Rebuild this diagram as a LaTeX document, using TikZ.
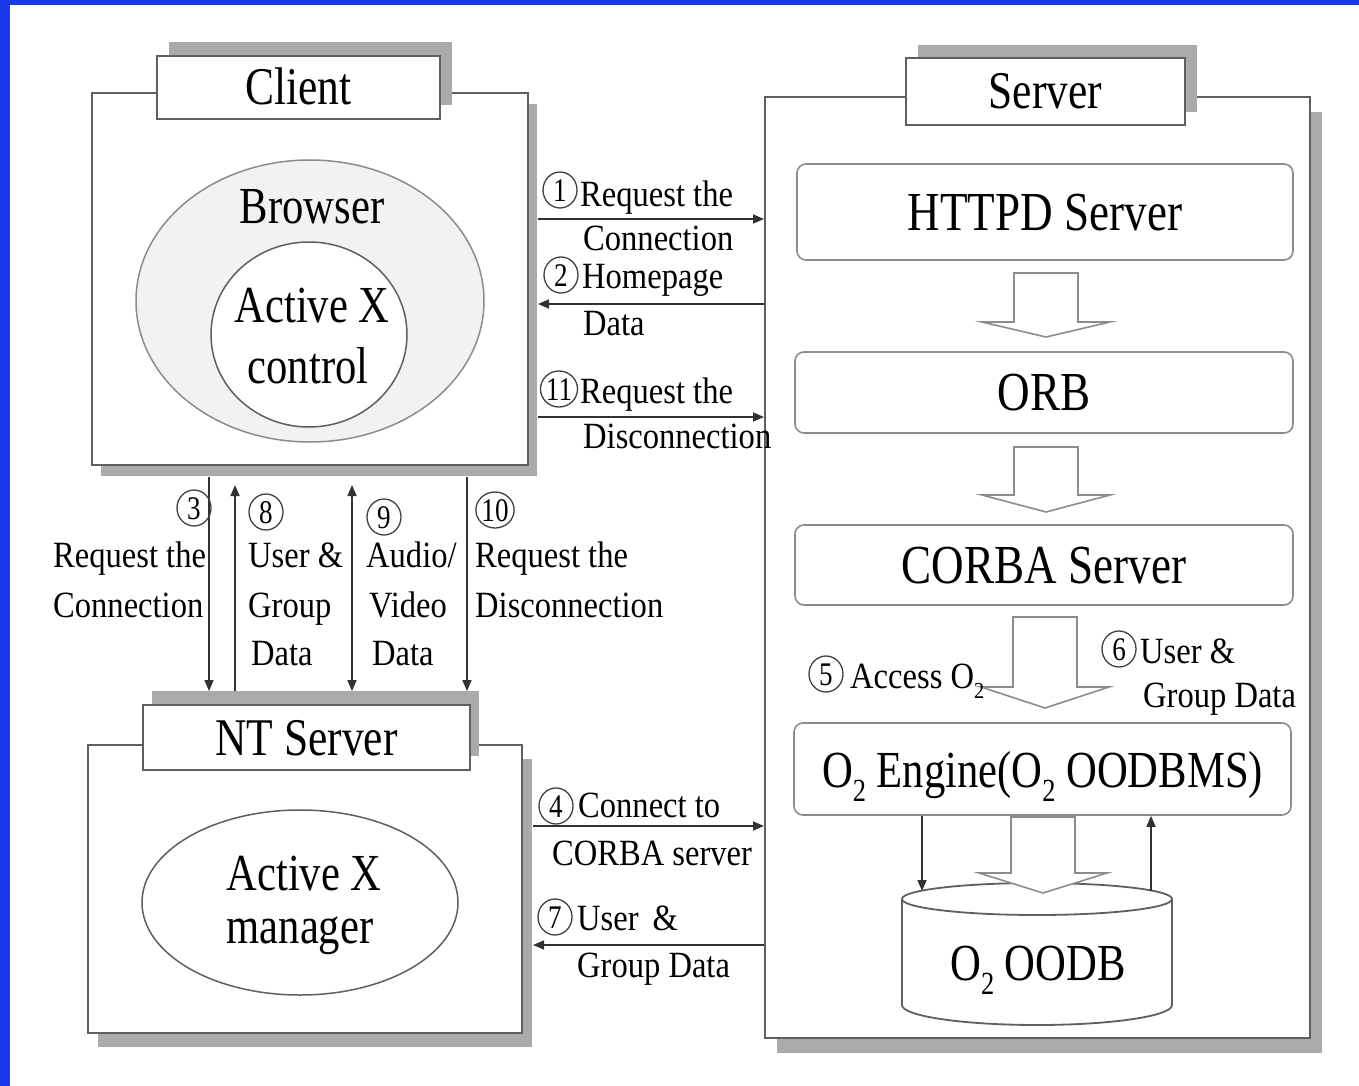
\documentclass[tikz,border=0pt]{standalone}
\usepackage{fontspec}
\newfontfamily\lfam{Liberation Serif}[FakeStretch=0.88]
\newfontfamily\bfam{Liberation Serif}[FakeStretch=0.82]
\usetikzlibrary{shapes.geometric,shadows,arrows.meta,calc}
\definecolor{bordblue}{RGB}{24,56,238}
\definecolor{shgray}{RGB}{170,170,170}
\definecolor{boxline}{RGB}{95,95,95}
\definecolor{rline}{RGB}{140,140,140}
\definecolor{conncol}{RGB}{50,50,50}
\definecolor{browserfill}{RGB}{242,242,242}
\newcommand\subtwo{\raisebox{-0.28em}{\scalebox{0.62}{2}}}
\newcommand\blockarr[4]{%
  \draw[barrow] (#1-32,#2) -- (#1+32,#2) -- (#1+32,#3) -- (#1+64,#3) -- (#1,#4) -- (#1-64,#3) -- (#1-32,#3) -- cycle;}
\begin{document}
\begin{tikzpicture}[x=1pt,y=-1pt,
  >={Triangle[length=11pt,width=9pt]},
  outerbox/.style={draw=boxline, line width=2pt, fill=white, rectangle, inner sep=0},
  titlebox/.style={draw=boxline, line width=1.8pt, fill=white, rectangle, inner sep=0,
     font=\bfam\fontsize{53}{56}\selectfont, text height=35pt, text depth=0pt},
  procbox/.style={draw=rline, line width=1.6pt, fill=white, rectangle, rounded corners=9pt, inner sep=0,
     font=\bfam\fontsize{55}{58}\selectfont, text height=36pt, text depth=0pt},
  bigtext/.style={inner sep=0, anchor=base, font=\bfam\fontsize{52}{56}\selectfont},
  lab/.style={inner sep=0, anchor=base west, font=\lfam\fontsize{37}{40}\selectfont},
  cnum/.style={ellipse, draw=black!75, line width=1.3pt, inner sep=0, minimum width=34, minimum height=36,
     font=\bfam\fontsize{33}{34}\selectfont, text height=22pt, text depth=0pt},
  conn/.style={draw=conncol, line width=1.6pt},
  barrow/.style={draw=rline, line width=1.6pt, fill=white, line join=miter},
  dbline/.style={draw=boxline, line width=1.8pt},
  shd/.style 2 args={drop shadow={shadow xshift=#1pt, shadow yshift=#2pt, fill=shgray, opacity=1}}
]
\useasboundingbox (0,0) rectangle (1359,1086);
\fill[white] (0,0) rectangle (1359,1086);
\fill[bordblue] (0,0) rectangle (1359,5);
\fill[bordblue] (0,0) rectangle (10,1086);

% ---------- Client ----------
\node[outerbox, minimum width=436, minimum height=372, shd={9}{-11}] (client) at (310,279) {};
\node[titlebox, minimum width=283, minimum height=63, shd={12}{14}] (ctitle) at (298.5,87.5) {Client};
\node[ellipse, draw=rline, line width=1.5pt, fill=browserfill, minimum width=348, minimum height=282, inner sep=0] (browser) at (310,301) {};
\node[bigtext] (browsertxt) at (312,223) {Browser};
\node[ellipse, draw=boxline, line width=1.5pt, fill=white, minimum width=196, minimum height=185, inner sep=0] (axc) at (309,334.5) {};
\node[bigtext] (axc1) at (312,322) {Active X};
\node[bigtext] (axc2) at (308,383) {control};

% ---------- Server ----------
\node[outerbox, minimum width=545, minimum height=941, shd={12}{-15}] (server) at (1037.5,567.5) {};
\node[titlebox, minimum width=279, minimum height=67, shd={12}{13}] (stitle) at (1045.5,91.5) {Server};
\node[procbox, minimum width=496, minimum height=96] (httpd) at (1045,212) {HTTPD Server};
\node[procbox, minimum width=498, minimum height=81] (orb) at (1044,392.5) {ORB};
\node[procbox, minimum width=498, minimum height=80] (corba) at (1044,565) {CORBA Server};
\node[procbox, minimum width=497, minimum height=92, font=\bfam\fontsize{52}{56}\selectfont] (engine) at (1042.5,769) {O\subtwo{} Engine(O\subtwo{} OODBMS)};

\blockarr{1046}{273}{322}{337}
\blockarr{1046}{447}{495}{512}
\blockarr{1045}{617}{687}{708}

% database cylinder
\draw[dbline] (902,899) -- (902,1005) arc[start angle=180, end angle=360, x radius=135pt, y radius=20pt] -- (1172,899);
\draw[dbline] (1037,899) ellipse [x radius=135pt, y radius=16pt];
\node[bigtext] (dbtxt) at (1038,980) {O\subtwo{} OODB};
\coordinate (dbL) at (922,891);
\coordinate (dbR) at (1151,891);
\blockarr{1043}{817}{873}{893}

\draw[conn,->] (engine.south -| dbL) -- (dbL);
\draw[conn,->] (dbR) -- (engine.south -| dbR);

% ---------- NT Server ----------
\node[outerbox, minimum width=434, minimum height=288, shd={10}{-14}] (nt) at (305,889) {};
\node[titlebox, minimum width=327, minimum height=65, shd={9}{14}] (nttitle) at (306.5,737.5) {NT Server};
\node[ellipse, draw=boxline, line width=1.5pt, fill=white, minimum width=316, minimum height=185, inner sep=0] (axm) at (300,902.5) {};
\node[bigtext] (axm1) at (304,890) {Active X};
\node[bigtext] (axm2) at (300,943) {manager};

% ---------- horizontal connectors ----------
\coordinate (h1) at (650,219);
\coordinate (h2) at (650,304);
\coordinate (h11) at (650,417);
\coordinate (h4) at (650,826);
\coordinate (h7) at (650,945);
\draw[conn,->,shorten <=9pt] (client.east |- h1) -- (server.west |- h1);
\draw[conn,->,shorten >=9pt] (server.west |- h2) -- (client.east |- h2);
\draw[conn,->,shorten <=9pt] (client.east |- h11) -- (server.west |- h11);
\draw[conn,->,shorten <=10pt] (nt.east |- h4) -- (server.west |- h4);
\draw[conn,->,shorten >=10pt] (server.west |- h7) -- (nt.east |- h7);

% ---------- vertical connectors ----------
\coordinate (v3) at (209,600);
\coordinate (v8) at (235,600);
\coordinate (v9) at (352,600);
\coordinate (v10) at (467,600);
\draw[conn,->,shorten <=11pt,shorten >=13pt] (client.south -| v3) -- (nttitle.north -| v3);
\draw[conn,->,shorten <=13pt,shorten >=19pt] (nttitle.north -| v8) -- (client.south -| v8);
\draw[conn,<->,shorten <=13pt,shorten >=19pt] (nttitle.north -| v9) -- (client.south -| v9);
\draw[conn,->,shorten <=11pt,shorten >=13pt] (client.south -| v10) -- (nttitle.north -| v10);

% ---------- labels ----------
\node[cnum] (c1) at (560,190) {1};
\node[lab] (l1a) at (580,207) {Request the};
\node[lab] (l1b) at (583,250) {Connection};
\node[cnum] (c2) at (561,275) {2};
\node[lab] (l2a) at (582,288) {Homepage};
\node[lab] (l2b) at (583,335) {Data};
\node[cnum, minimum width=37] (c11) at (559,389) {11};
\node[lab] (l11a) at (580,403) {Request the};
\node[lab] (l11b) at (583,448) {Disconnection};

\node[cnum] (c3) at (194,508) {3};
\node[lab] (l3a) at (53,567) {Request the};
\node[lab] (l3b) at (53,617) {Connection};
\node[cnum] (c8) at (266,512) {8};
\node[lab] (l8a) at (248,567) {User \&};
\node[lab] (l8b) at (248,617) {Group};
\node[lab] (l8c) at (251,665) {Data};
\node[cnum] (c9) at (384,517) {9};
\node[lab] (l9a) at (366,567) {Audio/};
\node[lab] (l9b) at (369,617) {Video};
\node[lab] (l9c) at (372,665) {Data};
\node[cnum, minimum width=38] (c10) at (495,510) {10};
\node[lab] (l10a) at (475,567) {Request the};
\node[lab] (l10b) at (475,617) {Disconnection};

\node[cnum] (c4) at (556,806) {4};
\node[lab] (l4a) at (578,817) {Connect to};
\node[lab] (l4b) at (552,865) {CORBA server};
\node[cnum] (c7) at (555,917) {7};
\node[lab] (l7a) at (577,930) {User\hspace{14pt}\&};
\node[lab] (l7b) at (577,977) {Group Data};

\node[cnum] (c5) at (826,674) {5};
\node[lab] (l5) at (850,688) {Access O\subtwo};
\node[cnum] (c6) at (1119,649) {6};
\node[lab] (l6a) at (1140,663) {User \&};
\node[lab] (l6b) at (1143,707) {Group Data};
\end{tikzpicture}
\end{document}
